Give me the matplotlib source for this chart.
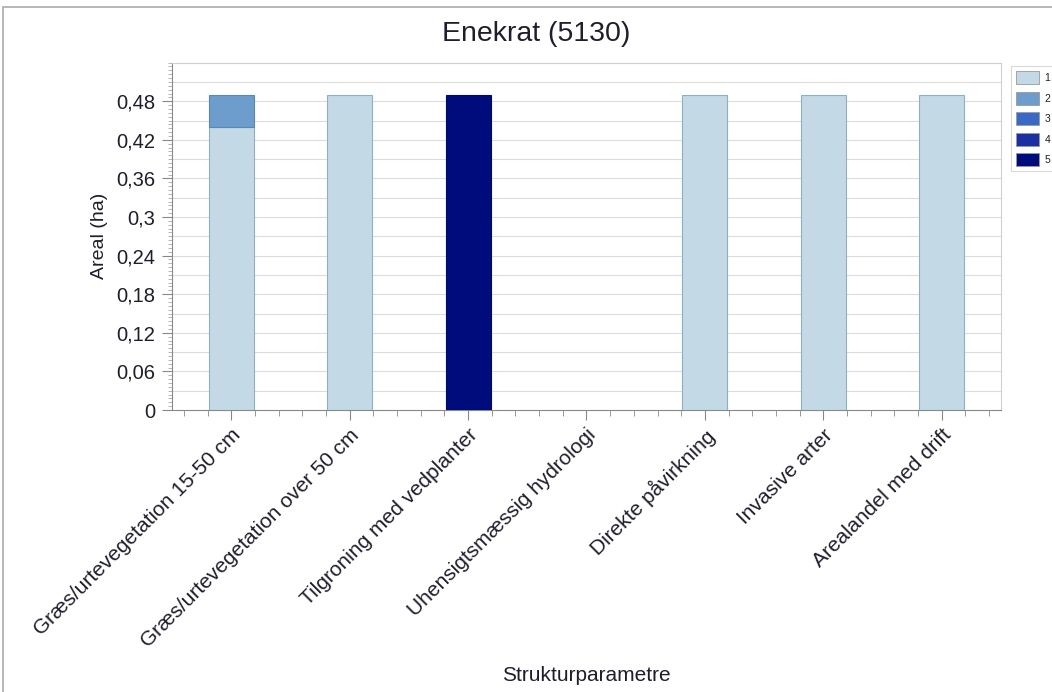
import matplotlib
matplotlib.use("Agg")
import matplotlib.pyplot as plt
import numpy as np
from matplotlib.ticker import MultipleLocator, FixedLocator, FuncFormatter
from matplotlib.patches import Patch, Rectangle

plt.rcParams['font.family'] = ['Liberation Sans', 'DejaVu Sans']
plt.rcParams['text.color'] = "#1e1e2c"
plt.rcParams['axes.labelcolor'] = "#1e1e2c"
plt.rcParams['xtick.labelcolor'] = "#1e1e2c"
plt.rcParams['ytick.labelcolor'] = "#1e1e2c"

categories = ["Græs/urtevegetation 15-50 cm", "Græs/urtevegetation over 50 cm",
              "Tilgroning med vedplanter", "Uhensigtsmæssig hydrologi",
              "Direkte påvirkning", "Invasive arter", "Arealandel med drift"]
levels = ["1", "2", "3", "4", "5"]
# areal (ha) per category for each level
s1 = [0.44, 0.49, 0.0, 0.0, 0.49, 0.49, 0.49]
s2 = [0.05, 0.0, 0.0, 0.0, 0.0, 0.0, 0.0]
s3 = [0.0, 0.0, 0.0, 0.0, 0.0, 0.0, 0.0]
s4 = [0.0, 0.0, 0.0, 0.0, 0.0, 0.0, 0.0]
s5 = [0.0, 0.0, 0.49, 0.0, 0.0, 0.0, 0.0]
series = [s1, s2, s3, s4, s5]
colors = ["#c3d9e6", "#6c9dcd", "#3a68c6", "#1b30a3", "#000c7c"]
edges = ["#8fb0c4", "#5a87b5", "#3058ad", "#16288a", "#000a66"]

fig = plt.figure(figsize=(10.52, 6.92), dpi=100)
ax = fig.add_axes([0.1635, 0.4075, 0.788, 0.502])

x = np.arange(len(categories))
bottom = np.zeros(len(categories))
for vals, c, ec in zip(series, colors, edges):
    v = np.array(vals)
    mask = v > 0
    ax.bar(x[mask], v[mask], width=0.38, bottom=bottom[mask], color=c,
           edgecolor=ec, linewidth=0.8, zorder=3)
    bottom += v

ax.set_xlim(-0.5, len(categories) - 0.5)
ax.set_ylim(0, 0.54)
ax.yaxis.set_major_locator(FixedLocator(np.arange(0, 0.49, 0.06)))
ax.yaxis.set_minor_locator(MultipleLocator(0.006))
ax.yaxis.set_major_formatter(FuncFormatter(lambda v, p: ("%g" % round(v, 2)).replace(".", ",")))
for g in np.arange(0.03, 0.535, 0.03):
    ax.axhline(g, color="#dcdcdc", linewidth=0.8, zorder=0)

ax.set_xticks(x)
ax.set_xticklabels(categories, rotation=45, ha="right", rotation_mode="anchor", fontsize=15)
ax.xaxis.set_minor_locator(MultipleLocator(0.2))
ax.tick_params(axis="x", which="major", length=7, color="#888888", pad=4)
ax.tick_params(axis="x", which="minor", length=4, color="#888888")
ax.tick_params(axis="y", which="major", length=7, color="#888888", labelsize=14.5, pad=5)
ax.tick_params(axis="y", which="minor", length=3, color="#aaaaaa")

for s in ["top", "right"]:
    ax.spines[s].set_color("#d0d0d0")
for s in ["left", "bottom"]:
    ax.spines[s].set_color("#888888")

ax.set_ylabel("Areal (ha)", fontsize=14, labelpad=6)
fig.text(0.557, 0.0245, "Strukturparametre", ha="center", va="center", fontsize=15)
fig.text(0.51, 0.951, "Enekrat (5130)", ha="center", va="center", fontsize=20.5)

handles = [Patch(facecolor=c, edgecolor="#999999", linewidth=0.6) for c in colors]
leg = fig.legend(handles, levels, loc="upper left", bbox_to_anchor=(0.956, 0.912),
                 fontsize=7.5, frameon=True, handlelength=2.2, handleheight=1.5,
                 labelspacing=0.75, borderpad=0.5, handletextpad=0.5, fancybox=False)
leg.get_frame().set_edgecolor("#d0d0d0")
leg.get_frame().set_linewidth(0.8)

fig.patches.append(Rectangle((0.003, -0.01), 1.1, 1.0, transform=fig.transFigure,
                             fill=False, edgecolor="#aaaaaa", linewidth=1.2))

fig.savefig("out.png", dpi=100)
